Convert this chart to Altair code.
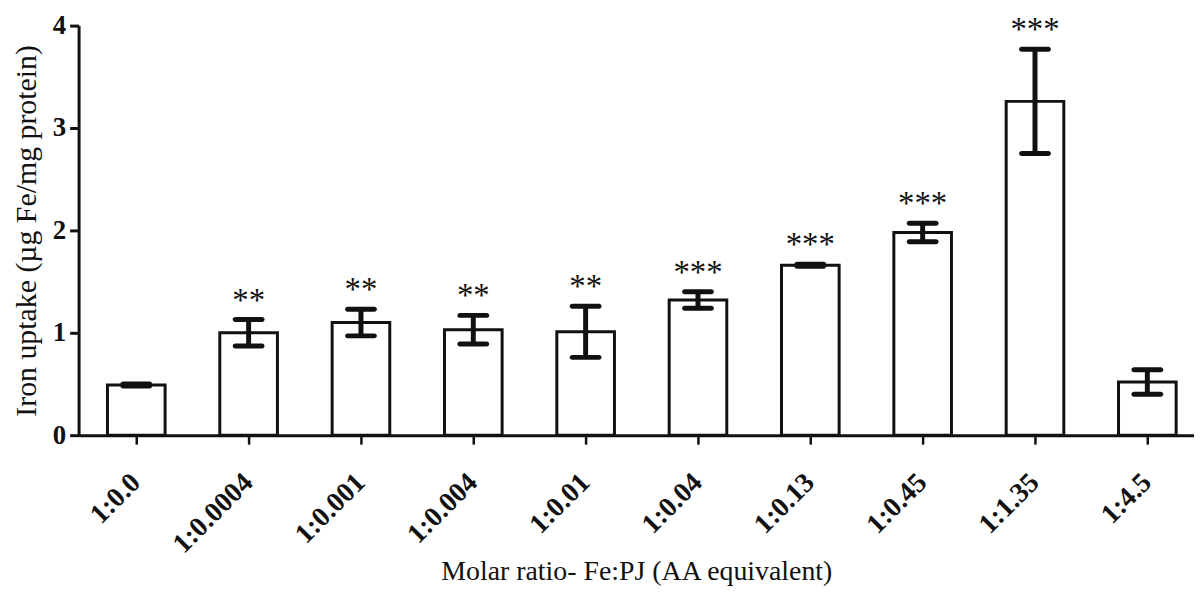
import altair as alt
import pandas as pd

categories = ["1:0.0", "1:0.0004", "1:0.001", "1:0.004", "1:0.01",
              "1:0.04", "1:0.13", "1:0.45", "1:1.35", "1:4.5"]
means = [0.49, 1.00, 1.10, 1.03, 1.01, 1.32, 1.66, 1.98, 3.26, 0.52]
errors = [0.01, 0.13, 0.13, 0.14, 0.25, 0.08, 0.01, 0.09, 0.51, 0.12]
stars = ["", "**", "**", "**", "**", "***", "***", "***", "***", ""]

df = pd.DataFrame({
    "cat": categories,
    "mean": means,
    "lo": [m - e for m, e in zip(means, errors)],
    "hi": [m + e for m, e in zip(means, errors)],
    "star": stars,
})

INK = "#111111"
SERIF = "Liberation Serif"

xscale = alt.Scale(domain=categories, paddingInner=0.487, paddingOuter=0.208, align=0.618)
x = alt.X("cat:N", scale=xscale, sort=categories,
          axis=alt.Axis(title="Molar ratio- Fe:PJ (AA equivalent)", labelAngle=-45,
                        labelFont=SERIF, labelFontWeight="bold", labelFontSize=28,
                        labelColor=INK, labelAlign="right", labelBaseline="middle",
                        labelPadding=34, tickSize=9, tickWidth=2.5, tickColor=INK,
                        domainColor=INK, domainWidth=3,
                        titleFont=SERIF, titleFontWeight="normal", titleFontSize=28,
                        titleColor=INK, titleBaseline="alphabetic", titleY=145))
xs = alt.X("cat:N", scale=xscale, sort=categories)
yscale = alt.Scale(domain=[0, 4], nice=False)
yaxis = alt.Axis(title="Iron uptake (µg Fe/mg protein)", values=[0, 1, 2, 3, 4],
                 format="d", grid=False,
                 labelFont=SERIF, labelFontWeight="bold", labelFontSize=27,
                 labelColor=INK, labelPadding=4, tickSize=9, tickWidth=3,
                 tickColor=INK, domainColor=INK, domainWidth=3,
                 titleFont=SERIF, titleFontWeight="normal", titleFontSize=30,
                 titleColor=INK, titlePadding=11)

base = alt.Chart(df)

bars = base.mark_bar(fill="white", stroke=INK, strokeWidth=3).encode(
    x=x, y=alt.Y("mean:Q", scale=yscale, axis=yaxis))

stem = base.mark_rule(color=INK, strokeWidth=5).encode(
    x=xs, y="lo:Q", y2="hi:Q")

cap_hi = base.mark_tick(color=INK, thickness=5, size=32, orient="horizontal",
                        cornerRadius=2.5, opacity=1).encode(x=xs, y="hi:Q")
cap_lo = base.mark_tick(color=INK, thickness=5, size=32, orient="horizontal",
                        cornerRadius=2.5, opacity=1).encode(x=xs, y="lo:Q")

text = base.mark_text(font=SERIF, fontSize=33, color=INK, baseline="alphabetic",
                      dy=-9).encode(x=xs, y="hi:Q", text="star:N")

chart = alt.layer(bars, stem, cap_hi, cap_lo, text).properties(
    width=1122, height=412,
    background="white",
    autosize=alt.AutoSizeParams(type="none"),
    padding={"left": 71, "top": 16, "right": 0, "bottom": 152},
).configure_view(strokeWidth=0, stroke="transparent").configure_axis(grid=False)

chart.save("out.html", embed_options={"renderer": "svg", "actions": False})
